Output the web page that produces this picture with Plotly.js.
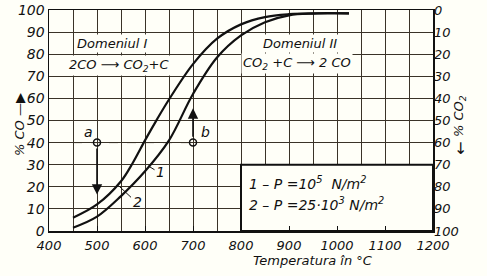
<!DOCTYPE html>
<html>
<head>
<meta charset="utf-8">
<script src="https://cdn.plot.ly/plotly-3.0.1.min.js"></script>
<style>html,body{margin:0;padding:0;background:#fffff8;}#chart{width:487px;height:276px;}</style>
</head>
<body>
<div id="chart"></div>
<script>
// Curve 2 (P = 25·10^3 N/m^2), upper/left curve
const temp2 = [450, 500, 550, 575, 600, 625, 650, 700, 750, 800, 850, 900, 950, 1025];
const co2curve = [6, 12, 22.5, 31, 41, 50.5, 59.5, 75.5, 87, 93.5, 96.8, 98.1, 98.5, 98.5];
// Curve 1 (P = 10^5 N/m^2), lower/right curve
const temp1 = [450, 500, 550, 600, 650, 700, 750, 800, 850, 900, 950, 1025];
const co1curve = [1.5, 6.5, 15.8, 27, 41, 62, 78.5, 88.5, 94.5, 97.6, 98.4, 98.5];
// Reference points a and b with arrow targets
const pointT = [500, 700];
const pointCO = [40, 40];
const arrowTo = [16.5, 55.5];
const pointLabels = ['a', 'b'];
const labelT = [483, 726];
const labelCO = [45, 45];
// Tick labels
const xTicks = [400, 500, 600, 700, 800, 900, 1000, 1100, 1200];
const yTicks = [0, 10, 20, 30, 40, 50, 60, 70, 80, 90, 100];
// Text labels
const legendLines = ['1 – P =10<sup>5</sup>  N/m<sup>2</sup>', '2 – P =25·10<sup>3</sup> N/m<sup>2</sup>'];
const curveLabels = ['1', '2'];
const curveLabelAt = [[633, 26.5], [585, 13]];
const curveLeaderFrom = [[607, 29.4], [545, 20.5]];
const curveLeaderTo = [[623, 27.3], [574, 14.6]];

const ink = '#111';
const bg = '#fffff8';
const fontI = {family: 'DejaVu Sans', size: 13, color: ink, style: 'italic'};

const traces = [
  {x: temp2, y: co2curve, mode: 'lines', line: {color: ink, width: 2.2, shape: 'spline', smoothing: 1}, hoverinfo: 'none', showlegend: false},
  {x: temp1, y: co1curve, mode: 'lines', line: {color: ink, width: 2.2, shape: 'spline', smoothing: 1}, hoverinfo: 'none', showlegend: false},
  {x: pointT, y: pointCO, mode: 'markers', marker: {symbol: 'circle-open', size: 7, color: ink, line: {width: 1.5, color: ink}}, hoverinfo: 'none', showlegend: false},
  {x: [400], y: [0], yaxis: 'y2', mode: 'markers', marker: {opacity: 0}, hoverinfo: 'none', showlegend: false}
];

const annotations = [];
// arrows a and b
for (let i = 0; i < pointT.length; i++) {
  annotations.push({x: pointT[i], y: arrowTo[i], ax: pointT[i], ay: pointCO[i] + (arrowTo[i] < pointCO[i] ? -2 : 2), axref: 'x', ayref: 'y', xref: 'x', yref: 'y',
    text: '', showarrow: true, arrowhead: 2, arrowsize: 1.3, arrowwidth: 1.6, arrowcolor: ink});
  annotations.push({x: labelT[i], y: labelCO[i], xref: 'x', yref: 'y', text: pointLabels[i], showarrow: false, font: {family: 'DejaVu Sans', size: 14, color: ink, style: 'italic'}});
}
// curve labels with leaders
for (let i = 0; i < curveLabels.length; i++) {
  annotations.push({x: curveLeaderFrom[i][0], y: curveLeaderFrom[i][1], ax: curveLeaderTo[i][0], ay: curveLeaderTo[i][1], axref: 'x', ayref: 'y', xref: 'x', yref: 'y',
    text: '', showarrow: true, arrowhead: 0, arrowwidth: 1, arrowcolor: ink});
  annotations.push({x: curveLabelAt[i][0], y: curveLabelAt[i][1], xref: 'x', yref: 'y', text: curveLabels[i], showarrow: false, font: {family: 'DejaVu Sans', size: 14, color: ink, style: 'italic'}});
}
// domain labels
annotations.push({x: 531, y: 85, xref: 'x', yref: 'y', text: 'Domeniul I', showarrow: false, bgcolor: bg, font: fontI});
annotations.push({x: 546, y: 74.7, xref: 'x', yref: 'y', text: '2CO ⟶ CO<sub>2</sub>+C', showarrow: false, bgcolor: bg, font: fontI});
annotations.push({x: 923, y: 85, xref: 'x', yref: 'y', text: 'Domeniul II', showarrow: false, bgcolor: bg, font: fontI});
annotations.push({x: 917, y: 76, xref: 'x', yref: 'y', text: 'CO<sub>2</sub> +C ⟶ 2 CO', showarrow: false, bgcolor: bg, font: fontI});
// legend box text
annotations.push({x: 812, y: 21.7, xref: 'x', yref: 'y', xanchor: 'left', text: legendLines[0], showarrow: false, font: {family: 'DejaVu Sans', size: 14, color: ink, style: 'italic'}});
annotations.push({x: 812, y: 12.2, xref: 'x', yref: 'y', xanchor: 'left', text: legendLines[1], showarrow: false, font: {family: 'DejaVu Sans', size: 14, color: ink, style: 'italic'}});
// axis titles
annotations.push({x: 950, y: -0.135, xref: 'x', yref: 'paper', yanchor: 'middle', text: 'Temperatura în °C', showarrow: false, font: {family: 'DejaVu Sans', size: 13, color: ink, style: 'italic'}});
annotations.push({x: -0.1, y: 0.48, xref: 'paper', yref: 'paper', text: '% CO —▶', textangle: -90, showarrow: false, font: {family: 'DejaVu Sans', size: 13, color: ink, style: 'italic'}});
annotations.push({x: 1.095, y: 0.52, xref: 'paper', yref: 'paper', text: '% CO<sub>2</sub>', textangle: -90, showarrow: false, font: {family: 'DejaVu Sans', size: 13, color: ink, style: 'italic'}});
annotations.push({x: 1.095, y: 0.32, xref: 'paper', yref: 'paper', text: '↓', showarrow: false, font: {family: 'DejaVu Sans', size: 16, color: ink}});

const shapes = [
  {type: 'rect', xref: 'x', yref: 'y', x0: 800, x1: 1200, y0: 0, y1: 30, fillcolor: bg, line: {color: ink, width: 2}, layer: 'between'},
  {type: 'line', xref: 'x', yref: 'y', x0: 450, x1: 700, y0: 40, y1: 40, line: {color: '#3a3328', width: 1, dash: 'dash'}, layer: 'between'}
];

const layout = {
  width: 487, height: 276,
  margin: {l: 49, r: 54, t: 10, b: 45},
  paper_bgcolor: bg, plot_bgcolor: bg,
  showlegend: false,
  xaxis: {range: [400, 1200], tickvals: xTicks, ticktext: xTicks.map(String), showgrid: true, gridcolor: '#3a3328', gridwidth: 1,
    minor: {dtick: 50, showgrid: true, gridcolor: '#3a3328', gridwidth: 1},
    ticks: 'inside', ticklen: 5, tickcolor: ink, showline: true, linecolor: ink, linewidth: 1.5, mirror: true, zeroline: false,
    ticklabelstandoff: 2,
    tickfont: {family: 'DejaVu Sans', size: 13, color: ink, style: 'italic'}, fixedrange: true},
  yaxis: {range: [0, 100], tickvals: yTicks, showgrid: true, gridcolor: '#3a3328', gridwidth: 1, zeroline: false,
    ticks: '', showline: true, linecolor: ink, linewidth: 1.5, mirror: true,
    tickfont: {family: 'DejaVu Sans', size: 14, color: ink, style: 'italic'}, fixedrange: true},
  yaxis2: {range: [100, 0], overlaying: 'y', side: 'right', tickvals: yTicks, showgrid: false, zeroline: false,
    ticks: '', showline: false,
    tickfont: {family: 'DejaVu Sans', size: 13, color: ink, style: 'italic'}, fixedrange: true},
  annotations: annotations,
  shapes: shapes
};

Plotly.newPlot('chart', traces, layout, {staticPlot: true, displayModeBar: false});
</script>
</body>
</html>
